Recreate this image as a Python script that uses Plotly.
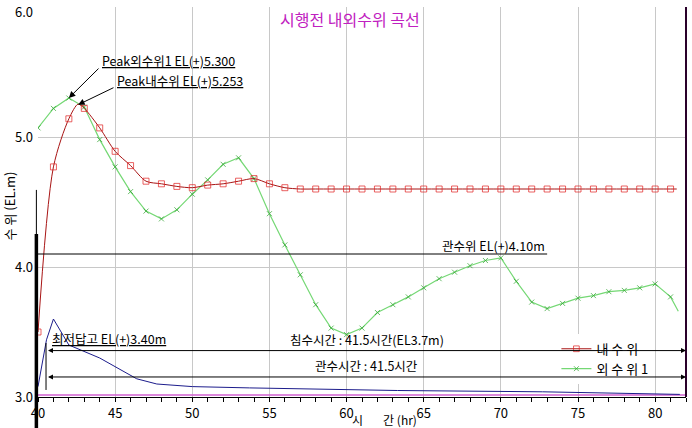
import plotly.graph_objects as go

# ---------------- data ----------------
inner_x = [40, 41, 42, 42.6, 43, 44, 45, 46, 47, 48, 49, 50, 51, 52, 53, 54, 55, 56,
           57, 58, 59, 60, 61, 62, 63, 64, 65, 66, 67, 68, 69, 70, 71, 72, 73, 74, 75,
           76, 77, 78, 79, 80, 81, 81.4]
inner_y = [3.50, 4.77, 5.14, 5.253, 5.22, 5.07, 4.89, 4.78, 4.66, 4.64, 4.62, 4.61, 4.63,
           4.64, 4.66, 4.68, 4.64, 4.61,
           4.60, 4.60, 4.60, 4.60, 4.60, 4.60, 4.60, 4.60, 4.60, 4.60, 4.60, 4.60, 4.60,
           4.60, 4.60, 4.60, 4.60, 4.60, 4.60, 4.60, 4.60, 4.60, 4.60, 4.60, 4.60, 4.60]
inner_marked = [True, True, True, False] + [True] * 39 + [False]

outer_x = [40, 41, 42, 43, 44, 45, 46, 47, 48, 49, 50, 51, 52, 53, 54, 55, 56, 57, 58,
           59, 60, 61, 62, 63, 64, 65, 66, 67, 68, 69, 70, 71, 72, 73, 74, 75, 76, 77,
           78, 79, 80, 81, 81.5]
outer_y = [5.07, 5.22, 5.30, 5.23, 4.98, 4.77, 4.58, 4.43, 4.37, 4.44, 4.56, 4.67, 4.79,
           4.84, 4.68, 4.41, 4.17, 3.94, 3.71, 3.53, 3.48, 3.53, 3.65, 3.71, 3.77, 3.84,
           3.91, 3.96, 4.01, 4.05, 4.07, 3.89, 3.73, 3.68, 3.72, 3.76, 3.78, 3.81, 3.82,
           3.84, 3.87, 3.77, 3.66]
outer_marked = [True] * 42 + [False]

aux_x = [40, 40.55, 41, 42, 44, 46.4, 47.7, 50, 53.7, 58.8, 63.3, 72.7, 76.9, 81.6]
aux_y = [3.08, 3.44, 3.60, 3.40, 3.30, 3.14, 3.10, 3.08, 3.07, 3.06, 3.05, 3.04, 3.03, 3.02]

base_x = [40, 82]
base_y = [3.015, 3.015]

x_ticks = [40, 45, 50, 55, 60, 65, 70, 75, 80]
y_ticks = [3.0, 4.0, 5.0, 6.0]

peak_outer = 5.300
peak_outer_x = 42.0
peak_inner = 5.253
peak_inner_x = 42.6
irrig_level = 4.10
irrig_end_x = 73.0
lowest_field = 3.40
flood_hours = 41.5
span_start = 40.55
span_end = 82.0
flood_arrow_y = 3.357
irrig_arrow_y = 3.154

FONT = "Noto Sans CJK KR"

fig = go.Figure()

fig.add_trace(go.Scatter(x=base_x, y=base_y, mode="lines",
                         line=dict(color="#d060d0", width=1.5),
                         showlegend=False, hoverinfo="skip"))
fig.add_trace(go.Scatter(x=aux_x, y=aux_y, mode="lines",
                         line=dict(color="#1c1c8c", width=1),
                         showlegend=False, hoverinfo="skip"))
fig.add_trace(go.Scatter(x=outer_x, y=outer_y, mode="lines+markers", name="외 수 위 1",
                         line=dict(color="#74d874", width=1.2),
                         marker=dict(symbol="x-thin", size=[5 if m else 0 for m in outer_marked],
                                     line=dict(color="#2aa02a", width=1), color="#2aa02a")))
fig.add_trace(go.Scatter(x=inner_x, y=inner_y, mode="lines+markers", name="내 수 위",
                         line=dict(color="#a81414", width=1, shape="spline", smoothing=0.8),
                         marker=dict(symbol="square-open", size=[6 if m else 0 for m in inner_marked],
                                     color="#e02020", line=dict(width=1))))

# irrigation level line
fig.add_trace(go.Scatter(x=[40, irrig_end_x], y=[irrig_level, irrig_level], mode="lines",
                         line=dict(color="black", width=1), showlegend=False, hoverinfo="skip"))
# start marker of duration spans
fig.add_trace(go.Scatter(x=[span_start - 0.03, span_start - 0.03], y=[3.415, 3.054], mode="lines",
                         line=dict(color="black", width=1), showlegend=False, hoverinfo="skip"))

ann = []
ann.append(dict(x=0.482, y=1.0, xref="paper", yref="paper", xanchor="center", yanchor="top",
                text="시행전 내외수위 곡선", showarrow=False,
                font=dict(family=FONT, size=16, color="#c020c0"), yshift=2))
ann.append(dict(x=0.535, y=-0.058, xref="paper", yref="paper", xanchor="center", yanchor="middle",
                text="시\u3000\u00a0\u00a0\u00a0간 (hr)", showarrow=False,
                font=dict(family=FONT, size=12, color="black")))
ann.append(dict(x=-0.044, y=0.49, xref="paper", yref="paper", xanchor="center", yanchor="middle",
                text="수 위 (EL.m)", textangle=-90, showarrow=False,
                font=dict(family=FONT, size=13, color="black")))
# top tick label (kept inside the page)
ann.append(dict(x=0, y=y_ticks[-1], xref="paper", yref="y", xanchor="right", yanchor="top",
                text="%.1f" % y_ticks[-1], showarrow=False, xshift=-3, yshift=7,
                font=dict(family=FONT, size=13, color="black")))

# peak arrows
ann.append(dict(x=peak_outer_x, y=peak_outer, ax=44.02, ay=5.538, axref="x", ayref="y",
                xref="x", yref="y", text="", showarrow=True, arrowhead=2, arrowsize=1.3,
                arrowwidth=1, arrowcolor="black"))
ann.append(dict(x=peak_inner_x, y=peak_inner - 0.005, ax=44.99, ay=5.385, axref="x", ayref="y",
                xref="x", yref="y", text="", showarrow=True, arrowhead=2, arrowsize=1.3,
                arrowwidth=1, arrowcolor="black"))
ann.append(dict(x=44.02, y=5.538, xref="x", yref="y", xanchor="left", yanchor="bottom",
                text="<u>Peak외수위1 EL(+)%.3f</u>" % peak_outer, showarrow=False, yshift=-5,
                font=dict(family=FONT, size=12.5, color="black")))
ann.append(dict(x=44.99, y=5.385, xref="x", yref="y", xanchor="left", yanchor="bottom",
                text="<u>Peak내수위 EL(+)%.3f</u>" % peak_inner, showarrow=False, yshift=-5,
                font=dict(family=FONT, size=12.5, color="black")))
ann.append(dict(x=irrig_end_x, y=irrig_level, xref="x", yref="y", xanchor="right", yanchor="bottom",
                text="관수위 EL(+)%.2fm" % irrig_level, showarrow=False, yshift=-3,
                font=dict(family=FONT, size=12.5, color="black")))
ann.append(dict(x=40.78, y=lowest_field, xref="x", yref="y", xanchor="left", yanchor="bottom",
                text="<u>최저답고 EL(+)%.2fm</u>" % lowest_field, showarrow=False, yshift=-5,
                font=dict(family=FONT, size=12.5, color="black")))
# duration arrows
for yy in (flood_arrow_y, irrig_arrow_y):
    ann.append(dict(x=span_end, y=yy, ax=span_start, ay=yy, axref="x", ayref="y",
                    xref="x", yref="y", text="", showarrow=True, arrowhead=2, arrowside="end+start",
                    arrowsize=1, arrowwidth=1, arrowcolor="black"))
ann.append(dict(x=61.3, y=flood_arrow_y, xref="x", yref="y", xanchor="center", yanchor="bottom",
                text="침수시간 : %.1f시간(EL3.7m)" % flood_hours, showarrow=False, yshift=0,
                font=dict(family=FONT, size=12.5, color="black")))
ann.append(dict(x=61.3, y=irrig_arrow_y, xref="x", yref="y", xanchor="center", yanchor="bottom",
                text="관수시간 : %.1f시간" % flood_hours, showarrow=False, yshift=0,
                font=dict(family=FONT, size=12.5, color="black")))

shapes = [
    dict(type="line", xref="paper", yref="paper", x0=1, x1=1, y0=0, y1=1,
         line=dict(color="#2a002a", width=2)),
    dict(type="line", xref="paper", yref="paper", x0=-0.0025, x1=-0.0025, y0=0.531, y1=-0.08,
         line=dict(color="black", width=1)),
    dict(type="line", xref="paper", yref="paper", x0=-0.0025, x1=-0.0025, y0=0.418, y1=-0.08,
         line=dict(color="black", width=3.5)),
]

fig.update_layout(
    width=692, height=428,
    margin=dict(l=38, r=6, t=7, b=31, autoexpand=False),
    paper_bgcolor="white", plot_bgcolor="white",
    font=dict(family=FONT, size=13, color="black"),
    annotations=ann, shapes=shapes,
    legend=dict(x=0.80, y=0.162, xanchor="left", yanchor="top", bgcolor="white",
                borderwidth=0, font=dict(family=FONT, size=13), traceorder="normal",
                tracegroupgap=0),
    xaxis=dict(range=[40, 82], tickmode="array", tickvals=x_ticks, automargin=False,
               ticktext=[str(v) for v in x_ticks], showgrid=True, gridcolor="#c8c8c8",
               gridwidth=1, zeroline=False, showline=True, linecolor="black", linewidth=1,
               ticks="outside", ticklen=4, tickcolor="black",
               minor=dict(dtick=1, tick0=40, ticks="outside", ticklen=4, tickcolor="black",
                          showgrid=False),
               tickfont=dict(size=13)),
    yaxis=dict(range=[3, 6], tickmode="array", tickvals=y_ticks, automargin=False,
               ticktext=["%.1f" % v if v < y_ticks[-1] else "" for v in y_ticks],
               showgrid=True, gridcolor="#c8c8c8",
               gridwidth=1, zeroline=False, showline=False, ticks="", ticklabelstandoff=4,
               tickfont=dict(size=13)),
)

# legend order: inner first
fig.data[3].legendrank = 1
fig.data[2].legendrank = 2

fig.write_html("out.html")
